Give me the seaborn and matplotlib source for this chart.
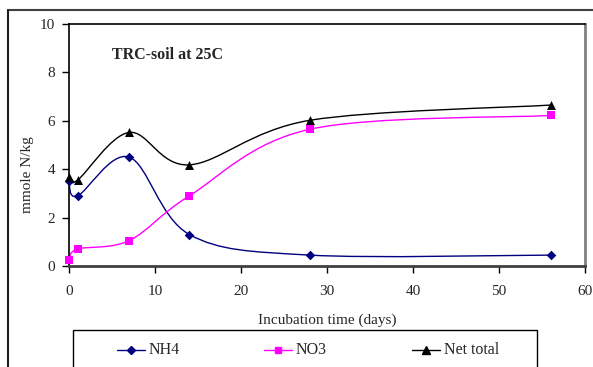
import numpy as np
import matplotlib
matplotlib.use("Agg")
import matplotlib.pyplot as plt
from matplotlib.path import Path
from matplotlib.patches import PathPatch, Rectangle
from matplotlib.lines import Line2D
import seaborn as sns

# data
days = [0, 1, 7, 14, 28, 56]
nh4 = [3.5, 2.9, 4.5, 1.3, 0.45, 0.45]
no3 = [0.25, 0.7, 1.05, 2.9, 5.65, 6.22]
net_total = [3.68, 3.55, 5.52, 4.18, 6.02, 6.65]

series = [
    ("NH4", nh4, "#000080", "D", 24),
    ("NO3", no3, "#FF00FF", "s", 32),
    ("Net total", net_total, "#000000", "^", 42),
]

sns.set_style("white")
plt.rcParams["font.family"] = ["Liberation Serif", "DejaVu Serif"]


def smooth_path(xs, ys):
    # Excel-like smoothed line: cubic bezier through the data points
    pts = np.column_stack([xs, ys]).astype(float)
    n = len(pts)
    verts = [pts[0]]
    codes = [Path.MOVETO]
    for i in range(n - 1):
        p0 = pts[max(i - 1, 0)]
        p1 = pts[i]
        p2 = pts[i + 1]
        p3 = pts[min(i + 2, n - 1)]
        verts += [p1 + (p2 - p0) / 6, p2 - (p3 - p1) / 6, p2]
        codes += [Path.CURVE4] * 3
    return Path(verts, codes)


W, H = 593, 367
fig = plt.figure(figsize=(W / 100, H / 100), dpi=100)
ax = fig.add_axes([69 / W, 1 - 266 / H, (585 - 69) / W, (266 - 24) / H])

for name, vals, color, marker, size in series:
    ax.add_patch(PathPatch(smooth_path(days, vals), facecolor="none",
                           edgecolor=color, lw=1.0, clip_on=False, zorder=2))
    sns.scatterplot(x=days, y=vals, marker=marker, color=color, s=size,
                    edgecolor=color, linewidth=0, ax=ax, zorder=3, clip_on=False)

ax.set_xlim(0, 60)
ax.set_ylim(0, 10)
ax.set_xticks(range(0, 61, 10))
ax.set_yticks(range(0, 11, 2))
ax.tick_params(axis="both", direction="out", length=5, width=1, labelsize=11,
               color="#000000", bottom=True, left=True)
ax.tick_params(axis="x", pad=9)
ax.tick_params(axis="y", pad=5)
for side in ["left", "top"]:
    ax.spines[side].set_color("#000000")
    ax.spines[side].set_linewidth(1.2)
ax.spines["bottom"].set_color("#404040")
ax.spines["bottom"].set_linewidth(2)
ax.spines["right"].set_color("#808080")
ax.spines["right"].set_linewidth(2)

ax.set_xlabel("Incubation time (days)", fontsize=11)
ax.set_ylabel("mmole N/kg", fontsize=11)
ax.xaxis.set_label_coords(0.5, (266 - 320) / 242)
ax.xaxis.label.set_va("center")
ax.yaxis.set_label_coords((27 - 69) / 516, (266 - 175) / 242)
ax.yaxis.label.set_va("center")
ax.text(112 / W, 1 - 55 / H, "TRC-soil at 25C", transform=fig.transFigure,
        fontsize=11.5, fontweight="bold", va="center", ha="left")

# chart area frame (cut by the picture edges)
fig.add_artist(Line2D([7.5 / W, 1.0], [1 - 10 / H, 1 - 10 / H],
                      color="#404040", lw=1.5, transform=fig.transFigure))
fig.add_artist(Line2D([7.5 / W, 7.5 / W], [0, 1 - 10 / H],
                      color="#202020", lw=1.5, transform=fig.transFigure))

# legend box below the plot
fig.add_artist(Rectangle((73 / W, -0.05), (537 - 73) / W, 0.05 + 1 - 330 / H,
                         transform=fig.transFigure, facecolor="white",
                         edgecolor="#000000", lw=1))
leg_y = 1 - 350 / H
for (name, vals, color, marker, size), x0 in zip(series, [117, 264, 412]):
    fig.add_artist(Line2D([x0 / W, (x0 + 28) / W], [leg_y, leg_y], color=color,
                          lw=1.0, transform=fig.transFigure))
    fig.add_artist(Line2D([(x0 + 14) / W], [leg_y], color=color, lw=0,
                          marker=marker, markersize=np.sqrt(size) * 0.85,
                          transform=fig.transFigure))
    fig.text((x0 + 32) / W, leg_y, name, fontsize=11.5, va="center", ha="left")

fig.savefig("out.png", dpi=100)
